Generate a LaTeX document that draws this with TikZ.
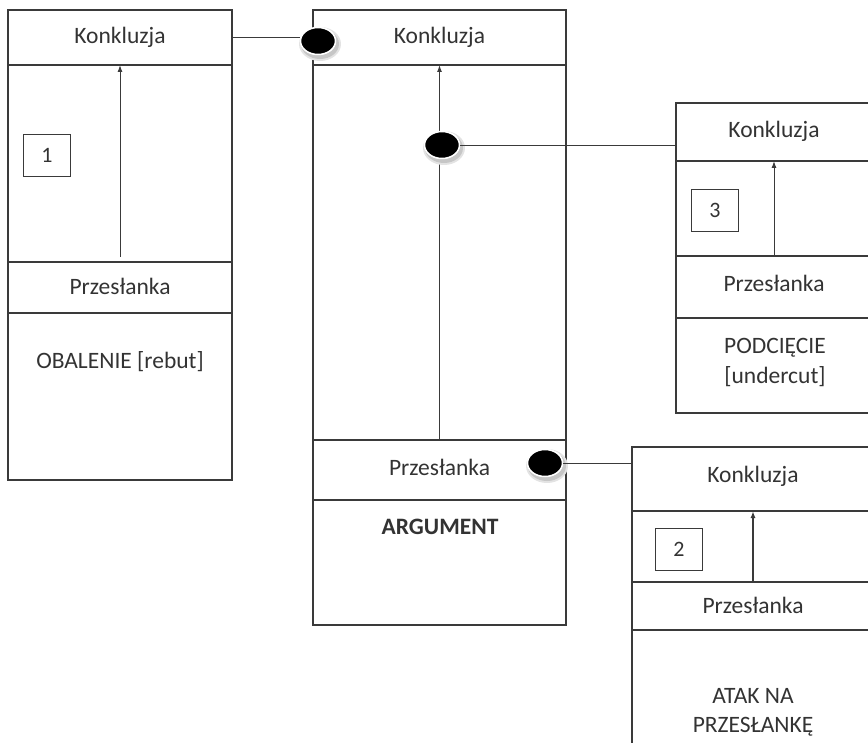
\documentclass[tikz,border=0pt]{standalone}
\usepackage{fontspec}
\setmainfont{Carlito}
\usetikzlibrary{arrows.meta,shapes.geometric}
\definecolor{linec}{HTML}{3A3A3A}
\definecolor{txt}{HTML}{333333}
\begin{document}
\begin{tikzpicture}[x=1pt,y=-1pt,
  part/.style={draw=linec, line width=1.3pt, rectangle, inner sep=0pt, outer sep=0pt, anchor=north west,
    font=\fontsize{23.5}{28}\selectfont, text=txt, align=center},
  lbl/.style={font=\fontsize{23.5}{28}\selectfont, text=txt, align=center, inner sep=0pt},
  numbox/.style={draw=linec, line width=0.9pt, rectangle, inner sep=0pt, minimum width=47pt, minimum height=42pt,
    font=\fontsize{22}{26}\selectfont, text=txt},
  dot/.style={ellipse, fill=black, draw=white, line width=1.5pt, minimum width=35pt, minimum height=27pt, inner sep=0pt},
  halo/.style={fill=gray!40},
  link/.style={draw=linec, line width=0.9pt},
  sup/.style={draw=linec, line width=1pt, -{Latex[length=7pt,width=5pt]}}]
\useasboundingbox (0,0) rectangle (868,743);
\clip (0,0) rectangle (868,743);
% left box (1)
\node[part, minimum width=224, minimum height=55] (L1) at (8,10) {\raisebox{5pt}{Konkluzja}};
\node[part, minimum width=224, minimum height=197] (L2) at (8,65) {};
\node[part, minimum width=224, minimum height=51] (L3) at (8,262) {\raisebox{3pt}{Przesłanka}};
\node[part, minimum width=224, minimum height=167] (L4) at (8,313) {};
\node[lbl] (Lt) at (120,362) {OBALENIE [rebut]};
\node[numbox] (n1) at (47,155) {1};
\draw[sup] ([yshift=5pt]L3.north) -- (L1.south);
% middle box
\node[part, minimum width=253, minimum height=55] (M1) at (313,10) {\raisebox{5pt}{Konkluzja}};
\node[part, minimum width=253, minimum height=375] (M2) at (313,65) {};
\node[part, minimum width=253, minimum height=60] (M3) at (313,440) {\raisebox{6pt}{Przesłanka}};
\node[part, minimum width=253, minimum height=125] (M4) at (313,500) {};
\node[lbl, font=\fontsize{23.5}{28}\selectfont\bfseries] (Mt) at (440,527) {ARGUMENT};
\draw[sup] (M3.north) -- (M1.south);
% right box (3)
\node[part, minimum width=196, minimum height=58] (R1) at (676,103) {\raisebox{6pt}{Konkluzja}};
\node[part, minimum width=196, minimum height=95] (R2) at (676,161) {};
\node[part, minimum width=196, minimum height=62] (R3) at (676,256) {\raisebox{7pt}{Przesłanka}};
\node[part, minimum width=196, minimum height=95] (R4) at (676,318) {};
\node[lbl] (Rt) at (775,362) {PODCIĘCIE\\[2pt][undercut]};
\node[numbox] (n3) at (715,210) {3};
\draw[sup] (R3.north) -- (R2.north);
% bottom right box (2)
\node[part, minimum width=242, minimum height=64] (B1) at (632,447) {\raisebox{9pt}{Konkluzja}};
\node[part, minimum width=242, minimum height=71] (B2) at (632,511) {};
\node[part, minimum width=242, minimum height=48] (B3) at (632,582) {\raisebox{1pt}{Przesłanka}};
\node[part, minimum width=242, minimum height=140] (B4) at (632,630) {};
\node[lbl] (Bt) at (753,712) {ATAK NA\\[1pt]PRZESŁANKĘ};
\node[numbox] (n2) at (679,549) {2};
\draw[sup, line width=1.5pt] (B3.north) -- (B2.north);
% attack dots and links
\coordinate (c1) at (318,41);
\coordinate (c2) at (442,145);
\coordinate (c3) at (545,463);
\foreach \c in {c1,c2,c3}{
  \fill[gray!22] ([shift={(2,3)}]\c) ellipse (21 and 17);
  \fill[gray!45] ([shift={(2,3)}]\c) ellipse (19 and 15);
  \fill[white] (\c) ellipse (18 and 14);
}
\node[dot] (D1) at (c1) {};
\node[dot] (D2) at (c2) {};
\node[dot] (D3) at (c3) {};
\draw[link] (L1.east) -- (L1.east -| D1.west);
\draw[link] (D2) -- (D2 -| R1.west);
\draw[link] (D3) -- (D3 -| B1.west);
\end{tikzpicture}
\end{document}
